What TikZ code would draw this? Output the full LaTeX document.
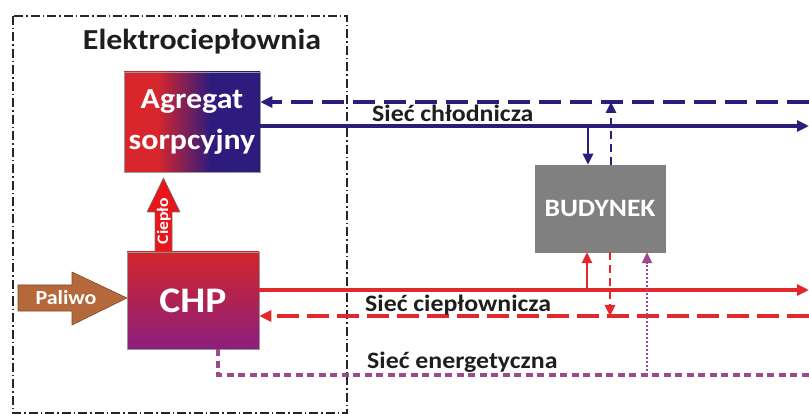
\documentclass[tikz,border=0pt]{standalone}
\usepackage{fontspec}
\setmainfont{Carlito}[FakeStretch=1.1]
\usetikzlibrary{arrows.meta,calc}
\definecolor{cnavy}{HTML}{2D1B7E}
\definecolor{cred}{HTML}{E2282A}
\definecolor{agred}{HTML}{D8262C}
\definecolor{cpurple}{HTML}{9A4A8E}
\definecolor{chptop}{HTML}{D3252A}
\definecolor{chpbot}{HTML}{8C1E7E}
\definecolor{cgray}{HTML}{808080}
\definecolor{cbrown}{HTML}{B5693B}
\definecolor{cbright}{HTML}{E8151B}
\definecolor{ctext}{HTML}{1E1E1E}
\pgfdeclarehorizontalshading{agshade}{100bp}{color(0bp)=(agred); color(37bp)=(agred); color(57bp)=(cnavy); color(100bp)=(cnavy)}
\begin{document}
\begin{tikzpicture}[x=1pt,y=-1pt,
  frame/.style={draw=black!85, line width=1.3pt, dash pattern=on 9pt off 3pt on 1.5pt off 3pt},
  titletext/.style={font=\fontsize{29}{34}\selectfont\bfseries, text=ctext, inner sep=0pt},
  whitetext/.style={text=white, font=\bfseries},
  agbox/.style={shade, shading=agshade, draw=black!40, line width=0.5pt, minimum width=136pt, minimum height=100pt, inner sep=0pt, align=center, whitetext, font=\fontsize{29}{41}\selectfont\bfseries},
  chpbox/.style={top color=chptop, bottom color=chpbot, draw=black!40, line width=0.5pt, minimum width=132pt, minimum height=97pt, inner sep=0pt, whitetext, font=\fontsize{36}{40}\selectfont\bfseries},
  budbox/.style={fill=cgray, draw=black!50, line width=0.5pt, minimum width=130pt, minimum height=87pt, inner sep=0pt, whitetext, font=\fontsize{25}{30}\selectfont\bfseries},
  lbl/.style={text=ctext, inner sep=0pt, font=\fontsize{23.5}{28}\selectfont\bfseries},
  tip/.style={-{Triangle[length=12pt,width=11pt]}},
  smalltip/.style={-{Triangle[length=11pt,width=10pt]}},
  navythick/.style={draw=cnavy, line width=3.2pt},
  navydash/.style={draw=cnavy, line width=4pt, dash pattern=on 22pt off 9pt},
  redthick/.style={draw=cred, line width=3.5pt},
  reddash/.style={draw=cred, line width=4pt, dash pattern=on 22pt off 8pt},
  thinline/.style={line width=2.6pt},
  smalldash/.style={dash pattern=on 8pt off 5pt},
  purpdash/.style={draw=cpurple, line width=4pt, dash pattern=on 7pt off 4.5pt},
  purpdot/.style={draw=cpurple, line width=2.4pt, dash pattern=on 2pt off 2pt}
]
\useasboundingbox (0,0) rectangle (809,414);
% frame
\draw[frame] (13,16) rectangle (347,413);
\node[titletext, anchor=base] (tit) at (202,50) {Elektrociepłownia};
% boxes
\node[agbox] (ag) at (192,122) {Agregat\\sorpcyjny};
\node[chpbox] (chp) at (193,300.5) {CHP};
\node[budbox] (bud) at (600,208.5) {BUDYNEK};
% Cieplo arrow
\filldraw[fill=cbright, draw=black!55, line width=0.6pt] (155,252) -- (155,212) -- (147,212) -- (163.5,178) -- (180,212) -- (172,212) -- (172,252) -- cycle;
\node[rotate=90, text=white, inner sep=0pt, font=\fontsize{16}{18}\selectfont\bfseries] (ciep) at (163.8,221) {Ciepło};
% Paliwo arrow
\filldraw[fill=cbrown, draw=cbrown!70!black, line width=0.6pt] (18,285) -- (72,285) -- (72,272) -- (127,298) -- (72,325) -- (72,311) -- (18,311) -- cycle;
\node[text=white, inner sep=0pt, font=\fontsize{20}{24}\selectfont\bfseries] (pal) at (66,298) {Paliwo};
% coordinates
\coordinate (eA) at (809,102);
\coordinate (eB) at (809,126);
\coordinate (eC) at (809,290);
\coordinate (eD) at (809,316);
\coordinate (eE) at (809,375);
\coordinate (cA) at (588,126);
\coordinate (cB) at (611,102);
\coordinate (cC) at (587,290);
\coordinate (cD) at (610,316);
\coordinate (cE) at (647,375);
\coordinate (pc) at (218,375);
% cooling network
\draw[navydash, tip] (eA) -- (eA -| ag.east);
\draw[navythick, tip] (eB -| ag.east) -- (eB);
\draw[draw=cnavy, thinline, smalltip] (cA) -- (cA |- bud.north);
\draw[draw=cnavy, thinline, smalldash, smalltip] (cB |- bud.north) -- (cB);
% heating network
\draw[redthick, tip] (eC -| chp.east) -- (eC);
\draw[reddash, tip] (eD) -- (eD -| chp.east);
\draw[draw=cred, thinline, smalltip] (cC) -- (cC |- bud.south);
\draw[draw=cred, thinline, smalldash, smalltip] (cD |- bud.south) -- (cD);
% power network
\draw[purpdash] (chp.south -| pc) -- (pc) -- (eE);
\draw[purpdot, smalltip] (cE) -- (cE |- bud.south);
% labels
\node[lbl, anchor=base west] (l1) at (372,122) {Sieć chłodnicza};
\node[lbl, anchor=base west] (l2) at (365,312) {Sieć ciepłownicza};
\node[lbl, anchor=base west] (l3) at (367,368) {Sieć energetyczna};
\end{tikzpicture}
\end{document}
